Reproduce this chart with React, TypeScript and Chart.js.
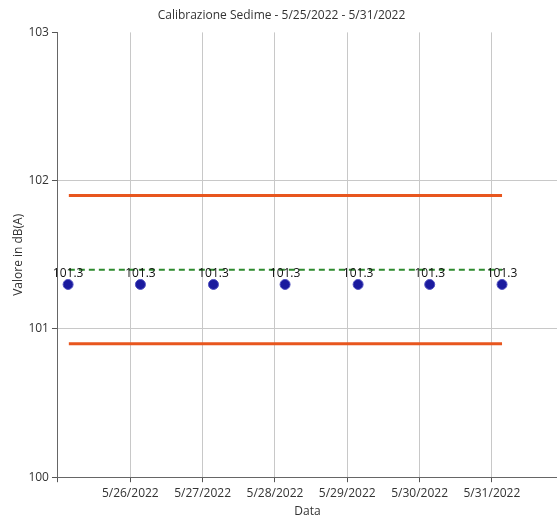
import React, { useEffect, useRef } from "react";
import { Chart, registerables } from "chart.js";

Chart.register(...registerables);

// x values are days since 5/25/2022 00:00
const dayLabels = ["5/25/2022", "5/26/2022", "5/27/2022", "5/28/2022", "5/29/2022", "5/30/2022", "5/31/2022"];
const measureX = [0.14, 1.14, 2.15, 3.14, 4.15, 5.14, 6.14];
const measureY = [101.3, 101.3, 101.3, 101.3, 101.3, 101.3, 101.3];
const lineX = [0.15, 6.14];
const upperLimit = [101.9, 101.9];
const lowerLimit = [100.9, 100.9];
const reference = [101.4, 101.4];
const yTicks = [100, 101, 102, 103];

const FONT = "'Open Sans', 'DejaVu Sans', sans-serif";
const CANVAS_W = 563;

const labelPlugin = {
  id: "pointLabels",
  afterDatasetsDraw(chart: any) {
    const meta = chart.getDatasetMeta(3);
    const ctx = chart.ctx;
    ctx.save();
    ctx.font = `12px ${FONT}`;
    ctx.fillStyle = "#111";
    ctx.textAlign = "center";
    ctx.textBaseline = "bottom";
    meta.data.forEach((el: any, i: number) => {
      ctx.fillText(measureY[i].toFixed(1), el.x, el.y - 5);
    });
    ctx.restore();
  },
};

export default function App() {
  const ref = useRef<HTMLCanvasElement>(null);
  useEffect(() => {
    const mk = (xs: number[], ys: number[]) => xs.map((x, i) => ({ x, y: ys[i] }));
    const chart = new Chart(ref.current!, {
      type: "scatter",
      data: {
        datasets: [
          {
            data: mk(lineX, upperLimit),
            showLine: true,
            borderColor: "#e8561e",
            borderWidth: 3,
            pointRadius: 0,
          },
          {
            data: mk(lineX, lowerLimit),
            showLine: true,
            borderColor: "#e8561e",
            borderWidth: 3,
            pointRadius: 0,
          },
          {
            data: mk(lineX, reference),
            showLine: true,
            borderColor: "#2e8b2e",
            borderWidth: 2,
            borderDash: [6, 4],
            pointRadius: 0,
          },
          {
            data: mk(measureX, measureY),
            backgroundColor: "#1a1a9e",
            borderColor: "#5050c0",
            borderWidth: 1,
            pointRadius: 5,
          },
        ],
      },
      options: {
        animation: false,
        responsive: false,
        layout: { padding: { left: 0, right: 0, top: 0, bottom: 3 } },
        plugins: {
          legend: { display: false },
          tooltip: { enabled: false },
          title: {
            display: true,
            text: "Calibrazione Sedime - 5/25/2022 - 5/31/2022",
            color: "#333",
            font: { family: FONT, size: 12, weight: "normal" },
            padding: { top: 8, bottom: 10 },
            align: "center",
          },
        },
        scales: {
          x: {
            type: "linear",
            min: 0,
            max: 6.9,
            afterBuildTicks: (scale: any) => {
              scale.ticks = dayLabels.map((_, i) => ({ value: i }));
            },
            ticks: {
              autoSkip: false,
              maxRotation: 0,
              color: "#333",
              font: { family: FONT, size: 12 },
              padding: 4,
              callback: (v: any) => (v === 0 ? "" : dayLabels[v as number]),
            },
            grid: { color: "#c8c8c8", tickColor: "#555", tickLength: 5 },
            border: { color: "#666" },
            title: {
              display: true,
              text: "Data",
              color: "#333",
              font: { family: FONT, size: 12 },
              padding: { top: 0, bottom: 0 },
            },
          },
          y: {
            min: 100,
            max: 103,
            afterBuildTicks: (scale: any) => {
              scale.ticks = yTicks.map((v) => ({ value: v }));
            },
            ticks: {
              color: "#333",
              font: { family: FONT, size: 12 },
              padding: 3,
            },
            grid: {
              color: (c: any) => (c.tick && c.tick.value === 103 ? "rgba(0,0,0,0)" : "#c8c8c8"),
              tickColor: "#555",
              tickLength: 6,
            },
            border: { color: "#666" },
            title: {
              display: true,
              text: "Valore in dB(A)",
              color: "#333",
              font: { family: FONT, size: 12 },
              padding: { top: 11, bottom: 0 },
            },
          },
        },
      },
      plugins: [labelPlugin],
    });
    return () => chart.destroy();
  }, []);
  return (
    <div style={{ position: "fixed", left: 0, top: 0, width: 557, height: 522, overflow: "hidden" }}>
      <canvas ref={ref} width={CANVAS_W} height={522} style={{ width: CANVAS_W, height: 522 }} />
    </div>
  );
}
